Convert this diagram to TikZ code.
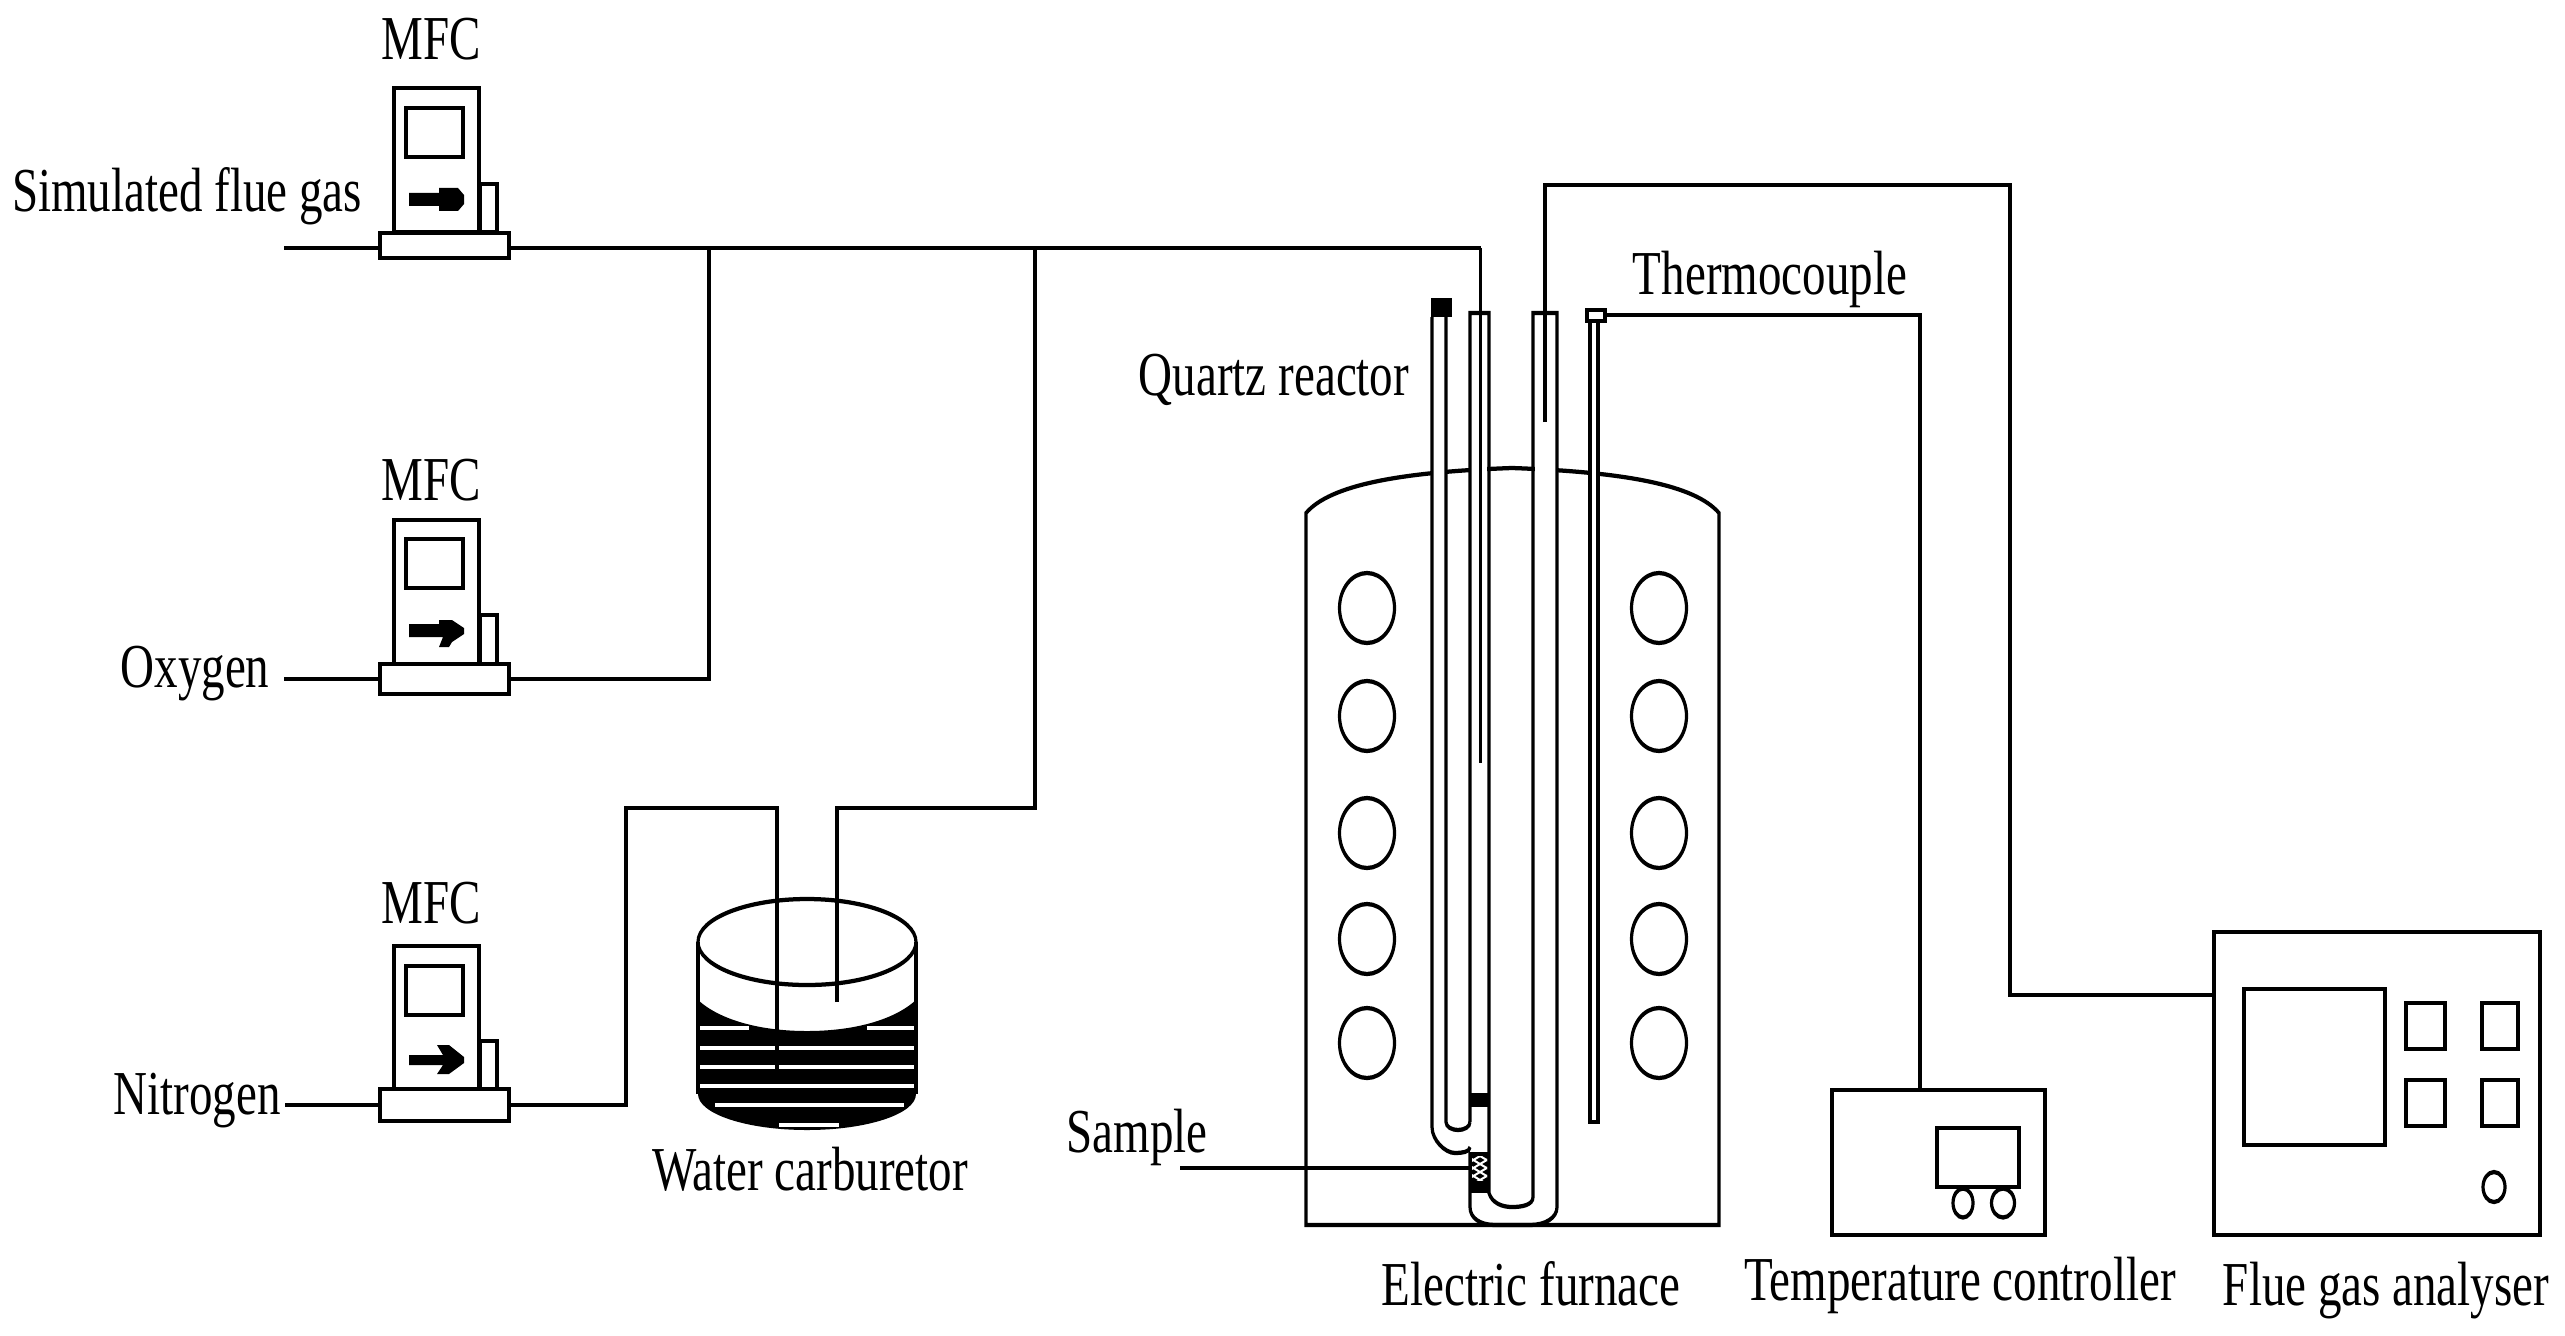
\documentclass[tikz,border=0pt]{standalone}
\usepackage{fontspec}
\setmainfont{Liberation Serif}
\newcommand{\boxn}[5]{\node[boxstyle,minimum width={(#4-#2)*.5pt},minimum height={(#5-#3)*.37594pt}] (#1) at ({(#2+#4)/2},{(#3+#5)/2}) {};}
\newcommand{\mfcunit}[9]{%
  % name, body top, body bottom, screen top, screen bottom, tab top, base top, base bottom, arrow y
  \boxn{#1tab}{480}{#6}{497}{#3}
  \boxn{#1body}{394}{#2}{479}{#3}
  \boxn{#1screen}{406}{#4}{463}{#5}
  \boxn{#1base}{380}{#7}{509}{#8}
  \coordinate (#1arrow) at (409,#9);
}
\tikzset{
  boxstyle/.style={draw=black,fill=white,line width=1.6pt,rectangle,inner sep=0pt,outer sep=0pt},
  wire/.style={draw=black,line width=1.6pt,line join=miter,line cap=butt},
  label/.style={font=\fontsize{23.5pt}{28pt}\selectfont,anchor=base,inner sep=0pt,text=black},
  coil/.style={draw=black,line width=1.6pt,fill=white},
}
\begin{document}
\begin{tikzpicture}
\useasboundingbox (0,0) rectangle (1282.5pt,-668pt);
\begin{scope}[x=.5pt,y=-.37594pt,transform canvas={yscale=1.33}]
% ---- labels
\node[label] (tsim) at (187,212) {Simulated flue gas};
\node[label] (tm1) at (431,60) {MFC};
\node[label] (tm2) at (431,500) {MFC};
\node[label] (tm3) at (431,923) {MFC};
\node[label] (tox) at (195,687) {Oxygen};
\node[label] (tni) at (197,1114) {Nitrogen};
\node[label] (twc) at (810,1190) {Water carburetor};
\node[label] (tqr) at (1274,395) {Quartz reactor};
\node[label] (ttc) at (1770,295) {Thermocouple};
\node[label] (tsa) at (1137,1152) {Sample};
\node[label] (tef) at (1531,1305) {Electric furnace};
\node[label] (ttc2) at (1960,1300) {Temperature controller};
\node[label] (tfg) at (2386,1305) {Flue gas analyser};
% ---- free ends and junctions
\coordinate (s1) at (284,248);
\coordinate (s2) at (284,679);
\coordinate (s3) at (285,1105);
\coordinate (j1) at (709,248);
\coordinate (j2) at (1035,248);
\coordinate (inlet) at (1480.5,248);
\coordinate (inletend) at (1480.5,763);
\coordinate (wc1) at (777,1075);
\coordinate (wc2) at (837,1002);
\coordinate (sampleS) at (1180,1168);
\coordinate (sampleE) at (1470,1168);
\coordinate (outend) at (1545,422);
\coordinate (tcr) at (1606,315);
% ---- wires
\draw[wire] (s1) -- (inlet);
\draw[wire] (s2) -- (709,679) -- (j1);
\draw[wire] (s3) -- (626,1105) -- (626,808) -- (777,808) -- (wc1);
\draw[wire] (wc2) -- (837,808) -- (1035,808) -- (j2);
% ---- MFC units
\mfcunit{a}{88}{232}{108}{157}{184}{233}{258}{199.5}
\mfcunit{b}{520}{664}{539}{588}{615}{664}{694}{630.5}
\mfcunit{c}{946}{1089}{966}{1015}{1041}{1089}{1121}{1060}
\fill (409,193) -- (439,193) -- (439,188) -- (458,188) -- (464,195) -- (464,204) -- (458,211) -- (439,211) -- (439,206) -- (409,206) -- cycle;
\fill (409,624) -- (439,624) -- (439,620) -- (452,620) -- (464,628) -- (464,634) -- (452,642) -- (449,647) -- (439,647) -- (443,637) -- (409,637) -- cycle;
\fill (409,1055) -- (443,1055) -- (437,1045) -- (449,1045) -- (464,1057) -- (464,1063) -- (449,1074) -- (437,1074) -- (443,1065) -- (409,1065) -- cycle;
% ---- water carburetor
\fill (698,1000) .. controls (720,1020) and (760,1031) .. (807,1031) .. controls (854,1031) and (894,1020) .. (916,1000) -- (916,1094) .. controls (916,1114) and (867,1130) .. (807,1130) .. controls (747,1130) and (698,1114) .. (698,1094) -- cycle;
\foreach \a/\b/\c in {700/749/1028,867/915/1028,700/915/1048,700/915/1067,700/915/1086,715/904/1105,779/839/1125}{
  \fill[white] (\a,\c-2.3) rectangle (\b,\c+2.3);
}
\draw[wire] (807,942) ellipse (109 and 43);
\draw[wire] (698,942) -- (698,1094);
\draw[wire] (916,942) -- (916,1094);
% redraw tubes above the vessel
\draw[wire] (777,808) -- (wc1);
\draw[wire] (837,808) -- (wc2);
% ---- furnace
\draw[wire,fill=white] (1306,1225) -- (1306,513) .. controls (1330,485) and (1400,472) .. (1512,468) .. controls (1625,472) and (1695,485) .. (1719,513) -- (1719,1225) -- cycle;
\foreach \c in {608,716,833,939,1043}{
  \draw[coil] (1367,\c) ellipse (27.5 and 35);
  \draw[coil] (1659,\c) ellipse (27.5 and 35);
}
% ---- clear the dome behind the tubes
\fill[white] (1433,460) rectangle (1446,480);
\fill[white] (1471,460) rectangle (1487,480);
\fill[white] (1535,460) rectangle (1556,480);
\fill[white] (1591,460) rectangle (1597,480);
% ---- bypass tube
\fill (1431,298) rectangle (1452,317);
\draw[wire] (1432,317) -- (1432,1127) .. controls (1432,1140) and (1445,1153) .. (1455,1153) .. controls (1462,1153) and (1470,1152) .. (1470,1147);
\draw[wire] (1446,317) -- (1446,1122) .. controls (1446,1127) and (1452,1130) .. (1458,1130) .. controls (1464,1130) and (1470,1127) .. (1470,1122);
% ---- reactor walls
\draw[wire] (1470,1122) -- (1470,313) -- (1489,313) -- (1489,1193) .. controls (1492,1203) and (1502,1207) .. (1512,1207) .. controls (1522,1207) and (1533,1205) .. (1533,1197) -- (1533,313) -- (1557,313) -- (1557,1207) .. controls (1557,1218) and (1545,1225) .. (1530,1225) -- (1495,1225) .. controls (1480,1225) and (1470,1218) .. (1470,1207) -- (1470,1152);
\draw[wire] (inlet) -- (inletend);
\fill (1469,1093) rectangle (1489,1107);
% ---- sample
\fill (1469,1152) rectangle (1490,1193);
\begin{scope}
\clip (1472,1156) rectangle (1487,1180);
\foreach \q in {1150,1158,1166,1174}{
  \draw[white,line width=.8pt] (1470,\q) -- (1490,\q+12);
  \draw[white,line width=.8pt] (1490,\q) -- (1470,\q+12);
}
\end{scope}
\draw[wire] (sampleS) -- (sampleE);
% ---- outlet
\draw[wire] (outend) -- (1545,185) -- (2010,185) -- (2010,995) -- (2214,995);
% ---- thermocouple
\draw[wire] (1590,322) -- (1590,1122) -- (1598,1122) -- (1598,322);
\boxn{tcbox}{1587}{310}{1605}{321}
\boxn{ctrl}{1832}{1090}{2045}{1235}
\draw[wire] (tcr) -- (1920,315) -- (1920,1090);
\boxn{ctrlscreen}{1937}{1128}{2019}{1187}
\draw[coil] (1963,1203) ellipse (10 and 14.5);
\draw[coil] (2003,1203) ellipse (11.5 and 14.5);
\draw[wire] (1937,1187) -- (2019,1187);
% ---- analyser
\boxn{fga}{2214}{932}{2540}{1235}
\boxn{fgascreen}{2244}{989}{2385}{1145}
\boxn{k1}{2406}{1003}{2445}{1049}
\boxn{k2}{2482}{1003}{2518}{1049}
\boxn{k3}{2406}{1080}{2445}{1126}
\boxn{k4}{2482}{1080}{2518}{1126}
\draw[coil] (2494,1187) ellipse (11 and 15);
\end{scope}
\end{tikzpicture}
\end{document}
